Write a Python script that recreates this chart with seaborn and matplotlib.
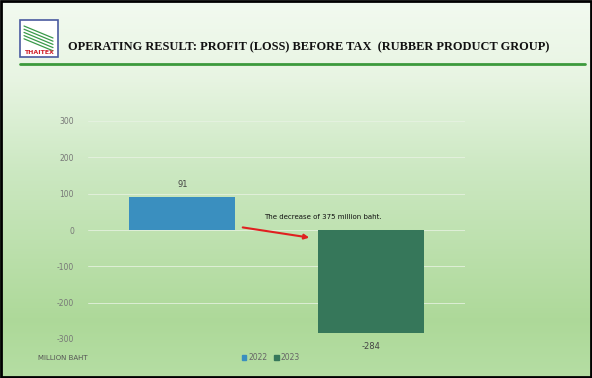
import numpy as np
import matplotlib
matplotlib.use("Agg")
import matplotlib.pyplot as plt
import seaborn as sns
import pandas as pd
from matplotlib.patches import Rectangle
from matplotlib.lines import Line2D

years = ["2022", "2023"]
values = [91, -284]
bar_colors = ["#3a8fbf", "#36775a"]
yticks = [-300, -200, -100, 0, 100, 200, 300]
title = "OPERATING RESULT: PROFIT (LOSS) BEFORE TAX  (RUBBER PRODUCT GROUP)"
note = "The decrease of 375 million baht."
unit = "MILLION BAHT"

sns.set_theme(style="white")
plt.rcParams['font.family'] = ['DejaVu Sans']

W, H = 592, 378
fig = plt.figure(figsize=(W / 100, H / 100), dpi=100)

# background gradient
bg = fig.add_axes([0, 0, 1, 1], zorder=0)
stops_y = [0.0, 0.2, 0.45, 0.85, 1.0]
stops_c = [(0.95, 0.98, 0.94), (0.91, 0.96, 0.89), (0.80, 0.91, 0.76), (0.68, 0.85, 0.60), (0.71, 0.87, 0.64)]
ys = np.linspace(0, 1, 200)
grad = np.zeros((200, 1, 3))
for k in range(3):
    grad[:, 0, k] = np.interp(ys, stops_y, [c[k] for c in stops_c])
bg.imshow(grad, aspect="auto", extent=[0, 1, 1, 0])
bg.set_xlim(0, 1); bg.set_ylim(1, 0)
bg.axis("off")
# border
bg.add_patch(Rectangle((0.002, 0.003), 0.996, 0.994, fill=False, edgecolor="black", lw=2,
                       transform=fig.transFigure))

# title line
fig.add_artist(Line2D([20 / W, 585 / W], [1 - 64 / H, 1 - 64 / H], color="#3c9a3c", lw=2))
# logo
fig.add_artist(Rectangle((20 / W, 1 - 57 / H), 38 / W, 37 / H, facecolor="white",
                         edgecolor="#4a5aa0", lw=1.2))
for i in range(5):
    y0 = 1 - (26 + i * 3.2) / H
    fig.add_artist(Line2D([24 / W, 53 / W], [y0, y0 - 12 / H], color="#3a9a4a", lw=0.9))
fig.text(39 / W, 1 - 52 / H, "THAITEX", color="#d0202a", fontsize=4.5, ha="center", va="center",
         fontweight="bold")
fig.text(68 / W, 1 - 47 / H, title, fontsize=8.9, fontweight="bold", family="Liberation Serif",
         ha="left", va="center", color="#111111")

ax = fig.add_axes([88 / W, 1 - 339 / H, 377 / W, 218 / H], zorder=1)
ax.patch.set_alpha(0)
df = pd.DataFrame({"year": years, "value": values})
sns.barplot(data=df, x="year", y="value", hue="year", palette=bar_colors, width=0.56,
            legend=False, ax=ax, saturation=1, zorder=3, linewidth=0, edgecolor="none")
ax.set_ylim(-300, 300)
ax.set_xlim(-0.5, 1.5)
ax.set_yticks(yticks)
ax.set_yticklabels([str(t) for t in yticks], fontsize=5.5, color="#777777")
ax.tick_params(axis="y", length=0, pad=10)
ax.set_xticks([])
ax.set_xlabel(""); ax.set_ylabel("")
for s in ax.spines.values():
    s.set_visible(False)
ax.grid(axis="y", color="#e8f3e3", lw=0.7, alpha=0.8, zorder=0)
ax.set_axisbelow(True)

for i, v in enumerate(values):
    off = 6 if v > 0 else -6
    ax.annotate(str(v), (i, v), xytext=(0, off), textcoords="offset points",
                ha="center", va="bottom" if v > 0 else "top", fontsize=6, color="#444444")

fig.text(264 / W, 1 - 217 / H, note, fontsize=5, color="#111111", ha="left", va="center")
ax.annotate("", xy=(312 / W, 1 - 238 / H), xytext=(240 / W, 1 - 227 / H),
            xycoords="figure fraction", textcoords="figure fraction",
            arrowprops=dict(arrowstyle="-|>", color="#e02020", lw=1.5, mutation_scale=7))

fig.text(38 / W, 1 - 358 / H, unit, fontsize=5, color="#555555", ha="left", va="center")
handles = [Rectangle((0, 0), 1, 1, color=c) for c in bar_colors]
fig.legend(handles, years, loc="center", bbox_to_anchor=(271 / W, 1 - 358 / H), ncol=2,
           frameon=False, fontsize=5.5, handlelength=0.6, handleheight=0.6, handletextpad=0.3,
           columnspacing=0.8, labelcolor="#666666")

fig.savefig("out.png", dpi=100)
